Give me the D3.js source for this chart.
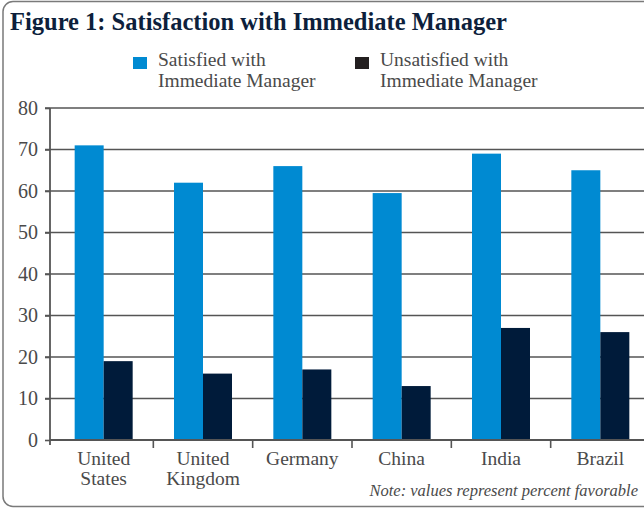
<!DOCTYPE html>
<html lang="en">
<head>
    <meta charset="UTF-8">
    <title>Figure 1: Satisfaction with Immediate Manager</title>
    <script src="https://d3js.org/d3.v7.min.js"></script>
    <style>
        body { margin: 0; background: #fff; }
        svg text { font-family: "Liberation Serif", "DejaVu Serif", serif; }
    </style>
</head>
<body>
    <svg></svg>
    <script>
        const countries = [["United", "States"], ["United", "Kingdom"], ["Germany"], ["China"], ["India"], ["Brazil"]];
        const seriesNames = [["Satisfied with", "Immediate Manager"], ["Unsatisfied with", "Immediate Manager"]];
        const satisfied = [71, 62, 66, 59.5, 69, 65];
        const unsatisfied = [19, 16, 17, 13, 27, 26];
        const yTicks = [0, 10, 20, 30, 40, 50, 60, 70, 80];
        const colors = ["#008ad2", "#001b3a"];

        const serif = "Liberation Serif, DejaVu Serif, serif";
        const width = 644, height = 508;
        const svg = d3.select("svg").attr("width", width).attr("height", height)
            .attr("font-family", serif);

        // rounded frame, right side runs off the page
        svg.append("rect")
            .attr("x", 3).attr("y", 1.5)
            .attr("width", 680).attr("height", 505)
            .attr("rx", 10)
            .attr("fill", "none")
            .attr("stroke", "#7a7a7a")
            .attr("stroke-width", 1.5);

        svg.append("text")
            .attr("x", 10).attr("y", 30)
            .attr("font-family", serif)
            .attr("font-size", 24.5).attr("font-weight", "bold")
            .attr("fill", "#0d1f3c")
            .text("Figure 1: Satisfaction with Immediate Manager");

        // legend
        const legendX = [133, 355];
        seriesNames.forEach((lines, i) => {
            svg.append("rect")
                .attr("x", legendX[i]).attr("y", 57)
                .attr("width", 14).attr("height", 12)
                .attr("fill", i === 0 ? colors[0] : "#231f20");
            const t = svg.append("text")
                .attr("font-family", serif)
                .attr("font-size", 19.5).attr("fill", "#4a4a4a");
            lines.forEach((l, j) => {
                t.append("tspan").attr("x", legendX[i] + 25).attr("y", 65.5 + j * 21).text(l);
            });
        });

        const plotLeft = 50, plotRight = 650, plotTop = 108, plotBottom = 440;
        const y = d3.scaleLinear().domain([0, 80]).range([plotBottom, plotTop]);
        const labels = countries.map(c => c.join(" "));
        const x0 = d3.scaleBand().domain(labels).range([54, plotRight]);
        const bw = x0.bandwidth();
        const x1 = d3.scaleBand().domain([0, 1]).range([bw / 2 - 29, bw / 2 + 29]);

        // gridlines
        svg.append("g").selectAll("line")
            .data(yTicks.filter(d => d > 0))
            .join("line")
            .attr("x1", plotLeft - 5).attr("x2", plotRight)
            .attr("y1", d => y(d)).attr("y2", d => y(d))
            .attr("stroke", "#555").attr("stroke-width", 1.6);

        // y axis
        const yAxis = svg.append("g")
            .attr("transform", `translate(${plotLeft},0)`)
            .call(d3.axisLeft(y).tickValues(yTicks).tickSize(5).tickPadding(7));
        yAxis.attr("font-family", serif);
        yAxis.select(".domain").remove();
        yAxis.selectAll("line").attr("stroke", "#555").attr("stroke-width", 1.6);
        yAxis.selectAll("text")
            .attr("font-size", 20).attr("fill", "#4a4a4a");

        // bars
        const groups = svg.append("g").selectAll("g")
            .data(labels)
            .join("g")
            .attr("transform", d => `translate(${x0(d)},0)`);
        groups.selectAll("rect")
            .data((d, i) => [satisfied[i], unsatisfied[i]])
            .join("rect")
            .attr("x", (d, k) => x1(k))
            .attr("width", x1.bandwidth())
            .attr("y", d => y(d))
            .attr("height", d => y(0) - y(d))
            .attr("fill", (d, k) => colors[k]);

        // x axis line and ticks
        svg.append("line")
            .attr("x1", plotLeft).attr("x2", plotRight)
            .attr("y1", plotBottom).attr("y2", plotBottom)
            .attr("stroke", "#555").attr("stroke-width", 1.8);
        svg.append("line")
            .attr("x1", plotLeft).attr("x2", plotLeft)
            .attr("y1", plotTop).attr("y2", plotBottom + 5)
            .attr("stroke", "#555").attr("stroke-width", 1.8);
        svg.append("g").selectAll("line")
            .data(labels.slice(1))
            .join("line")
            .attr("x1", d => x0(d)).attr("x2", d => x0(d))
            .attr("y1", plotBottom).attr("y2", plotBottom + 8)
            .attr("stroke", "#555").attr("stroke-width", 1.6);

        // category labels
        svg.append("g").selectAll("text")
            .data(countries)
            .join("text")
            .attr("text-anchor", "middle")
            .attr("font-family", serif)
            .attr("font-size", 19.5).attr("fill", "#4a4a4a")
            .each(function (c, i) {
                const cx = x0(labels[i]) + bw / 2;
                d3.select(this).selectAll("tspan")
                    .data(c)
                    .join("tspan")
                    .attr("x", cx)
                    .attr("y", (l, j) => 465 + j * 20)
                    .text(l => l);
            });

        svg.append("text")
            .attr("x", 638).attr("y", 496)
            .attr("text-anchor", "end")
            .attr("font-family", serif)
            .attr("font-size", 16.5).attr("font-style", "italic")
            .attr("fill", "#4a4a4a")
            .text("Note: values represent percent favorable");
    </script>
</body>
</html>
